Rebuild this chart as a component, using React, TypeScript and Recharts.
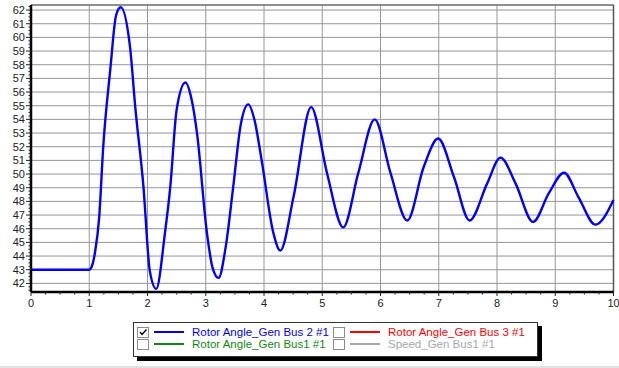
import { CartesianGrid, Line, LineChart, ReferenceLine, XAxis, YAxis } from "recharts";

// time (s) and rotor angle (deg)
const TIME = [
  0, 1.0, 1.04, 1.1, 1.17, 1.24, 1.36, 1.46, 1.54, 1.7, 1.79, 1.93, 2.04, 2.15,
  2.3, 2.39, 2.5, 2.65, 2.76, 2.85, 3.02, 3.12, 3.22, 3.34, 3.47, 3.6, 3.73,
  3.84, 3.96, 4.16, 4.28, 4.51, 4.81, 5.08, 5.36, 5.62, 5.9, 6.17, 6.46, 6.74,
  6.99, 7.26, 7.53, 7.83, 8.06, 8.32, 8.62, 8.89, 9.15, 9.4, 9.69, 10.0,
];
const ROTOR_ANGLE = [
  43, 43, 43.2, 44.3, 46.8, 52.0, 57.6, 61.6, 62.2, 59.3, 54.9, 49.1, 42.9, 41.6,
  45.7, 49.0, 54.7, 56.7, 55.4, 53.0, 45.7, 43.1, 42.4, 44.6, 49.0, 53.6, 55.1,
  53.9, 51.0, 45.7, 44.4, 48.4, 54.9, 50.1, 46.1, 50.1, 54.0, 50.1, 46.6, 50.5,
  52.6, 49.8, 46.6, 49.3, 51.2, 49.3, 46.5, 48.6, 50.1, 48.3, 46.3, 48.1,
];

const X_MAJOR = [0, 1, 2, 3, 4, 5, 6, 7, 8, 9, 10];
const Y_MAJOR = [42, 43, 44, 45, 46, 47, 48, 49, 50, 51, 52, 53, 54, 55, 56, 57, 58, 59, 60, 61, 62];
const Y_DOMAIN: [number, number] = [41.37, 62.37];

const LEGEND_LABELS = [
  "Rotor Angle_Gen Bus 2 #1",
  "Rotor Angle_Gen Bus 3 #1",
  "Rotor Angle_Gen Bus1 #1",
  "Speed_Gen Bus1 #1",
];
const LEGEND_COLORS = ["#0000ff", "#ff0000", "#118a11", "#a8a8a8"];
const LEGEND_CHECKED = [true, false, false, false];

const data = TIME.map((t, i) => ({ t, angle: ROTOR_ANGLE[i] }));

// minor ticks every 0.25 on both axes
const X_TICKS: number[] = [];
for (let v = 0; v <= 10.0001; v += 0.25) X_TICKS.push(Math.round(v * 100) / 100);
const Y_TICKS: number[] = [];
for (let v = 41.5; v <= 62.3; v += 0.25) Y_TICKS.push(Math.round(v * 100) / 100);

const isMajor = (v: number) => Math.abs(v - Math.round(v)) < 1e-6;

function XTick({ x, y, payload }: any) {
  const v = payload.value as number;
  const major = isMajor(v);
  return (
    <g>
      <line x1={x} x2={x} y1={y} y2={y + (major ? 4 : 2.5)} stroke="#222" />
      {major && (
        <text x={x} y={y + 15} textAnchor="middle" fontSize={11} fill="#222">
          {v}
        </text>
      )}
    </g>
  );
}

function YTick({ x, y, payload }: any) {
  const v = payload.value as number;
  const major = isMajor(v);
  return (
    <g>
      <line x1={x - (major ? 5 : 2.5)} x2={x} y1={y} y2={y} stroke="#222" />
      {major && (
        <text x={x - 6} y={y + 4} textAnchor="end" fontSize={11} fill="#222">
          {v}
        </text>
      )}
    </g>
  );
}

function CheckBox({ checked }: { checked: boolean }) {
  return (
    <svg width={12} height={11} style={{ display: "block" }}>
      <rect x={0.5} y={0.5} width={11} height={10} fill="#fff" stroke="#8c8c8c" />
      {checked && (
        <path d="M3 5 L5 7.5 L9.5 2.5" fill="none" stroke="#000" strokeWidth={1.4} />
      )}
    </svg>
  );
}

function ChartLegend() {
  return (
    <div
      style={{
        position: "absolute",
        left: 133,
        top: 322,
        width: 400,
        height: 30,
        border: "1px solid #333",
        background: "#fff",
        boxShadow: "4px 4px 0 #000",
        display: "grid",
        gridTemplateColumns: "196px 196px",
        gridAutoRows: "12px",
        paddingTop: 3,
        paddingLeft: 3,
        boxSizing: "content-box",
      }}
    >
      {LEGEND_LABELS.map((label, i) => (
        <div key={label} style={{ display: "flex", alignItems: "center", height: 12 }}>
          <CheckBox checked={LEGEND_CHECKED[i]} />
          <div style={{ width: 30, height: 2, background: LEGEND_COLORS[i], marginLeft: 5 }} />
          <span style={{ marginLeft: 8, fontSize: 11.5, color: LEGEND_COLORS[i], whiteSpace: "nowrap" }}>
            {label}
          </span>
        </div>
      ))}
    </div>
  );
}

export default function App() {
  return (
    <div
      style={{
        position: "absolute",
        left: 0,
        top: 0,
        width: 619,
        height: 368,
        background: "#fff",
        fontFamily: "'Liberation Sans', Arial, sans-serif",
        overflow: "hidden",
      }}
    >
      <LineChart
        width={619}
        height={310}
        data={data}
        margin={{ top: 5, right: 5.5, left: 0, bottom: 0 }}
      >
        <CartesianGrid stroke="#969696" verticalValues={X_MAJOR} horizontalValues={Y_MAJOR} />
        <ReferenceLine y={Y_DOMAIN[1]} stroke="#6a6a6a" strokeWidth={1.5} />
        <ReferenceLine x={10} stroke="#555" strokeWidth={1.5} />
        <XAxis
          dataKey="t"
          type="number"
          domain={[0, 10]}
          ticks={X_TICKS}
          interval={0}
          height={18}
          tickSize={0}
          tickMargin={0}
          tickLine={false}
          tick={<XTick />}
          axisLine={{ stroke: "#000", strokeWidth: 2.5 }}
        />
        <YAxis
          type="number"
          domain={Y_DOMAIN}
          allowDataOverflow
          ticks={Y_TICKS}
          interval={0}
          width={31}
          tickSize={0}
          tickMargin={0}
          tickLine={false}
          tick={<YTick />}
          axisLine={{ stroke: "#000", strokeWidth: 2.5 }}
        />
        <Line
          dataKey="angle"
          type="monotone"
          stroke="#0000ff"
          strokeWidth={2.4}
          dot={false}
          isAnimationActive={false}
        />
      </LineChart>
      <ChartLegend />
      <div style={{ position: "absolute", left: 0, top: 366, width: 619, height: 2, background: "#e2e2e2" }} />
    </div>
  );
}
